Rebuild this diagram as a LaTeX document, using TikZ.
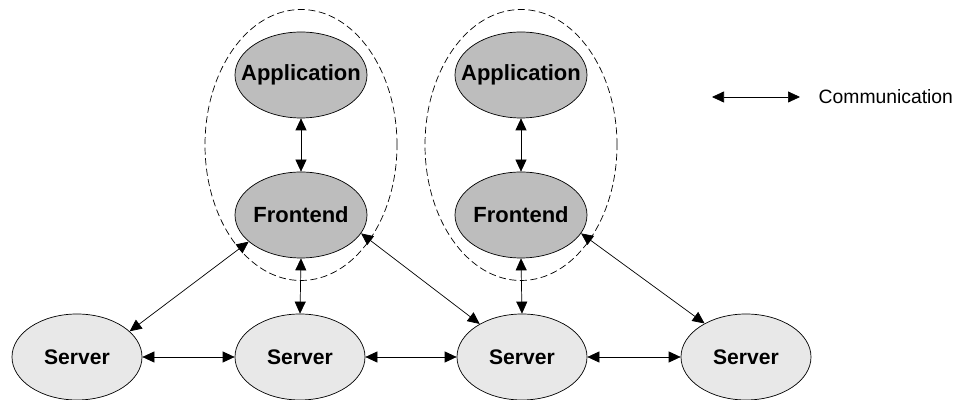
\documentclass[tikz,border=0pt]{standalone}
\usepackage{fontspec}
\setmainfont{Liberation Sans}
\usepackage{tikz}
\usetikzlibrary{positioning}
\usetikzlibrary{shapes.geometric,arrows.meta}
\definecolor{darkfill}{HTML}{BDBDBD}
\definecolor{lightfill}{HTML}{E8E8E8}

\begin{document}
\begin{tikzpicture}
                [proc/.style = {ellipse, minimum width = 2.64cm, minimum height = 1.72cm, inner sep=0pt, draw, thin, fill=darkfill, label={[font=\fontsize{12.5}{14}\selectfont\bfseries]center:#1}},
                 srv/.style = {ellipse, minimum width = 2.6cm, minimum height = 1.72cm, inner sep=0pt, draw, thin, fill=lightfill, label={[font=\fontsize{12}{14}\selectfont\bfseries]center:Server}},
                 grp/.style = {ellipse, minimum width = 3.84cm, minimum height = 5.42cm, draw, dash pattern=on 4pt off 2pt},
                 comm/.style = {{Triangle[length=2.4mm,width=2.2mm]}-{Triangle[length=2.4mm,width=2.2mm]}, thin}]
                \useasboundingbox (0,0) rectangle (19.16,8);
                % Groups around application and frontend
                \node[grp] (g1) at (6.02,5.1) {};
                \node[grp] (g2) at (10.42,5.1) {};
                % Applications
                \node[proc=Application] (app1) at (6.02,6.5) {};
                \node[proc=Application] (app2) at (10.42,6.5) {};
                % Frontends
                \node[proc=Frontend] (fe1) at (6.02,3.7) {};
                \node[proc=Frontend] (fe2) at (10.42,3.7) {};
                % Servers
                \node[srv] (s1) at (1.54,0.86) {};
                \node[srv] (s2) at (6.0,0.86) {};
                \node[srv] (s3) at (10.44,0.86) {};
                \node[srv] (s4) at (14.92,0.86) {};
                % Legend
                \coordinate (l1) at (14.24,6.06);
                \coordinate (l2) at (16.0,6.06);
                \node[anchor=west, font=\fontsize{11}{13}\selectfont] (lt) at (16.25,6.06) {Communication};
                % Lines
                \path[comm] (app1) edge (fe1);
                \path[comm] (app2) edge (fe2);
                \path[comm] (fe1.south) edge (s2.north);
                \path[comm] (fe2.south) edge (s3.north);
                \path[comm] (fe1.207) edge (s1.26);
                \path[comm] (fe1.343) edge (s3.142);
                \path[comm] (fe2.343) edge (s4.141);
                \path[comm] (s1) edge (s2);
                \path[comm] (s2) edge (s3);
                \path[comm] (s3) edge (s4);
                \path[comm] (l1) edge (l2);
            \end{tikzpicture}
\end{document}
